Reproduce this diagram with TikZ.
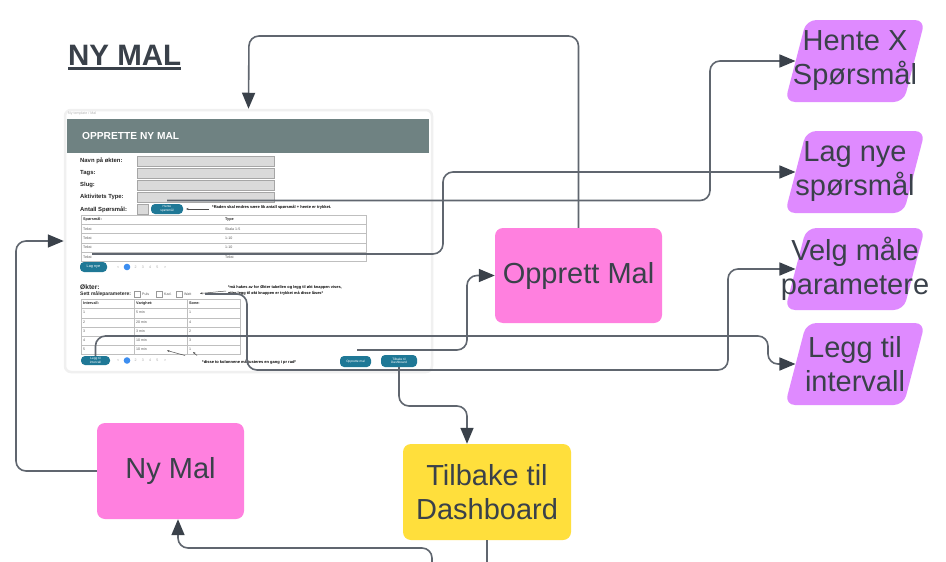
\documentclass[tikz,border=0pt]{standalone}
\usepackage{fontspec}
\setmainfont{Liberation Sans}
\usetikzlibrary{arrows.meta, shapes.geometric}

\definecolor{txtdark}{HTML}{3A414A}
\definecolor{linegray}{HTML}{60666F}
\definecolor{pinkfill}{HTML}{FF80DF}
\definecolor{purplefill}{HTML}{DF8AFF}
\definecolor{yellowfill}{HTML}{FFDF3C}
\definecolor{headgray}{HTML}{6F8282}
\definecolor{btnteal}{HTML}{1F7896}
\definecolor{inputgray}{HTML}{DADADA}
\definecolor{dotblue}{HTML}{3D8EF0}

\tikzset{
  bigtext/.style={text=txtdark, font=\fontsize{29}{34}\selectfont, align=center},
  pinkbox/.style={bigtext, fill=pinkfill, rounded corners=8pt, inner sep=0pt},
  yellowbox/.style={bigtext, fill=yellowfill, rounded corners=8pt, inner sep=0pt},
  slanted/.style={trapezium, trapezium left angle=78, trapezium right angle=102,
    trapezium stretches=true, fill=purplefill, rounded corners=10pt,
    minimum width=140pt, minimum height=82pt, inner sep=0pt},
  link/.style={draw=linegray, line width=1.6pt, rounded corners=10pt,
    -{Triangle[length=16pt, width=13pt, color=txtdark]}},
  lbl/.style={inner sep=0pt, anchor=west, font=\bfseries\fontsize{5.9}{7}\selectfont, text=black!85},
  inputbox/.style={fill=inputgray, draw=black!35, line width=0.4pt},
  btn/.style={fill=btnteal, rounded corners=4pt, text=white, align=center,
    font=\fontsize{3.2}{3.6}\selectfont, inner sep=0pt},
  celltext/.style={inner sep=0pt, anchor=west, font=\fontsize{3.6}{4}\selectfont, text=black!65},
  headcell/.style={celltext, font=\bfseries\fontsize{3.8}{4}\selectfont, text=black!85},
  note/.style={inner sep=0pt, anchor=west, align=left, font=\bfseries\fontsize{4}{5}\selectfont},
  gridline/.style={draw=black!25, line width=0.4pt},
  tinyarrow/.style={-{Stealth[length=2.5pt, width=2pt]}, line width=0.5pt, black!70},
}

\begin{document}
\begin{tikzpicture}[x=1pt, y=-1pt]
    \useasboundingbox (0,0) rectangle (946,562);
    \clip (0,0) rectangle (946,562);
    \fill[white] (0,0) rectangle (946,562);

    %% title
    \node[anchor=base west, inner sep=0pt, text=txtdark,
      font=\bfseries\fontsize{29.5}{34}\selectfont] (title) at (68,65) {NY MAL};
    \draw[txtdark, line width=3pt] ([yshift=-3.5pt]title.base west) -- ([yshift=-3.5pt]title.base east);

    %% the mockup of the page
    \node[draw=black!6, line width=2.5pt, fill=white, rounded corners=6pt,
      minimum width=367pt, minimum height=262pt, inner sep=0pt] (mock) at (248.5,241) {};
    \node[celltext, text=black!30] at (68,114) {Ny template / Mal};
    \fill[headgray] (67,119) rectangle (429,153);
    \node[anchor=west, inner sep=0pt, text=white, font=\bfseries\fontsize{10.2}{12}\selectfont] at (82,136) {OPPRETTE NY MAL};

    %% form fields
    \node[lbl] at (80,161) {Navn på økten:};
    \node[lbl] at (80,173) {Tags:};
    \node[lbl] at (80,185) {Slug:};
    \node[lbl] at (80,197) {Aktivitets Type:};
    \node[lbl] at (80,209.5) {Antall Spørsmål:};
    \foreach \fy in {156,168,180,192}
      \draw[inputbox] (137,\fy) rectangle (274,\fy+10);
    \draw[inputbox] (137,204) rectangle (148,214);
    \node[btn, minimum width=32pt, minimum height=10pt] (hentebtn) at (167,209) {Hente\\spørsmål};
    \draw[tinyarrow] (209,209) -- (186,209);
    \node[note] at (212,207) {*Raden skal endres være lik antall spørsmål + hente er trykket.};

    %% question table
    \draw[gridline] (81,215) rectangle (366,261);
    \foreach \ry in {224,233,243,252}
      \draw[gridline] (81,\ry) -- (366,\ry);
    \node[headcell] at (83,219.5) {Spørsmål:};
    \node[headcell] at (225,219.5) {Type};
    \foreach \qtype [count=\i] in {Skala 1-5, 1-10, 1-10, Tekst} {
      \node[celltext] at (83,219.5+\i*9.4) {Tekst};
      \node[celltext] at (225,219.5+\i*9.4) {\qtype};
    }
    \node[btn, minimum width=27pt, minimum height=10pt, font=\fontsize{3.8}{4}\selectfont] (lagbtn) at (93.5,267) {Lag nye};

    %% pagination
    \foreach \py in {267,360.5} {
      \node[celltext, text=black!35] at (117,\py) {<};
      \fill[dotblue] (127,\py) circle (3.3pt);
      \foreach \pn [count=\j] in {2,3,4,5}
        \node[celltext, text=black!35] at (127+\j*7.3,\py) {\pn};
      \node[celltext, text=black!35] at (164,\py) {>};
    }

    %% sessions
    \node[lbl, font=\bfseries\fontsize{6.6}{8}\selectfont] at (80,287) {Økter:};
    \node[lbl, font=\bfseries\fontsize{5}{6}\selectfont] at (80,294) {Sett måleparametere:};
    \foreach \cx/\cname in {134/Puls, 156/Kad., 176/Watt} {
      \draw[black!40, line width=0.4pt, fill=white] (\cx,291) rectangle ++(6,6);
      \node[celltext] at (\cx+8,294) {\cname};
    }
    \draw[tinyarrow] (226,291) -- (200,293.5);
    \node[note, font=\bfseries\fontsize{3.9}{5.5}\selectfont] at (228,290.5)
      {*må hakes av for Økter tabellen og legg til økt knappen vises,\\
       etter legg til økt knappen er trykket må disse låses*};

    %% interval table
    \draw[gridline] (81,299) rectangle (240,354);
    \foreach \cx in {134,187}
      \draw[gridline] (\cx,299) -- (\cx,354);
    \foreach \ry in {308,318,327,336,345}
      \draw[gridline] (81,\ry) -- (240,\ry);
    \node[headcell] at (83,303.5) {Intervall:};
    \node[headcell] at (136,303.5) {Varighet:};
    \node[headcell] at (189,303.5) {Sone:};
    \foreach \tid/\sone [count=\i] in {5 min/1, 20 min/4, 3 min/2, 10 min/3, 10 min/1} {
      \node[celltext] at (83,303.5+\i*9.2) {\i};
      \node[celltext] at (136,303.5+\i*9.2) {\tid};
      \node[celltext] at (189,303.5+\i*9.2) {\sone};
    }
    \node[btn, minimum width=29pt, minimum height=9pt] (leggbtn) at (95.5,360.5) {Legg til\\intervall};
    \draw[tinyarrow] (185,355.5) -- (167,350.5);
    \draw[tinyarrow] (197,355.5) -- (193,352);
    \node[note] at (202,362) {*disse to kolonnene må justeres en gang i pr rad*};

    %% buttons at the bottom
    \node[btn, minimum width=31pt, minimum height=11pt] (oppbtn) at (355.5,361.5) {Opprette mal};
    \node[btn, minimum width=36pt, minimum height=12pt] (tilbtn) at (399,361) {Tilbake til\\Dashboard};

    %% flow boxes
    \node[pinkbox, minimum width=167pt, minimum height=95pt] (opprett) at (578.5,275.5) {Opprett Mal};
    \node[pinkbox, minimum width=147pt, minimum height=96pt] (nymal) at (170.5,471) {Ny Mal};
    \node[yellowbox, minimum width=168pt, minimum height=96pt] (tilbake) at (487,492) {Tilbake til\\Dashboard};

    \node[slanted] (hente) at (855,61) {\phantom{X}};
    \node[bigtext] at (hente) {Hente X\\Spørsmål};
    \node[slanted] (lagnye) at (855,172) {\phantom{X}};
    \node[bigtext] at (lagnye) {Lag nye\\spørsmål};
    \node[slanted] (velg) at (855,269) {\phantom{X}};
    \node[bigtext] at (velg) {Velg måle\\parametere};
    \node[slanted] (legg) at (855,364) {\phantom{X}};
    \node[bigtext] at (legg) {Legg til\\intervall};

    %% connectors
    \coordinate (aktstart) at (167,200.5);
    \coordinate (lagstart) at (92,254);
    \coordinate (wattstart) at (205,294);
    \coordinate (oppstart) at (357,350);
    \coordinate (offa) at (487,580);
    \coordinate (offb) at (432,580);

    \draw[link] (opprett.north) |- (249,36) -- (mock.north);
    \draw[link] (aktstart) -- (710,200.5) |- (hente.west);
    \draw[link] (lagstart) -- (443,254) |- (lagnye.west);
    \draw[link] (wattstart) -- (247,294) |- (728,370) |- (velg.west);
    \draw[link] (leggbtn.north) |- (768,336) |- (legg.west);
    \draw[link] (oppstart) -- (467,350) |- (opprett.west);
    \draw[link] (tilbtn.south) |- (467,406) -- ([xshift=-20pt]tilbake.north);
    \draw[link] (nymal.west) -| (16,241) -- (mock.west);
    \draw[link, -] (tilbake.south) -- (offa);
    \draw[link] (offb) |- (178,548) -- ([xshift=7.5pt]nymal.south);
\end{tikzpicture}
\end{document}
